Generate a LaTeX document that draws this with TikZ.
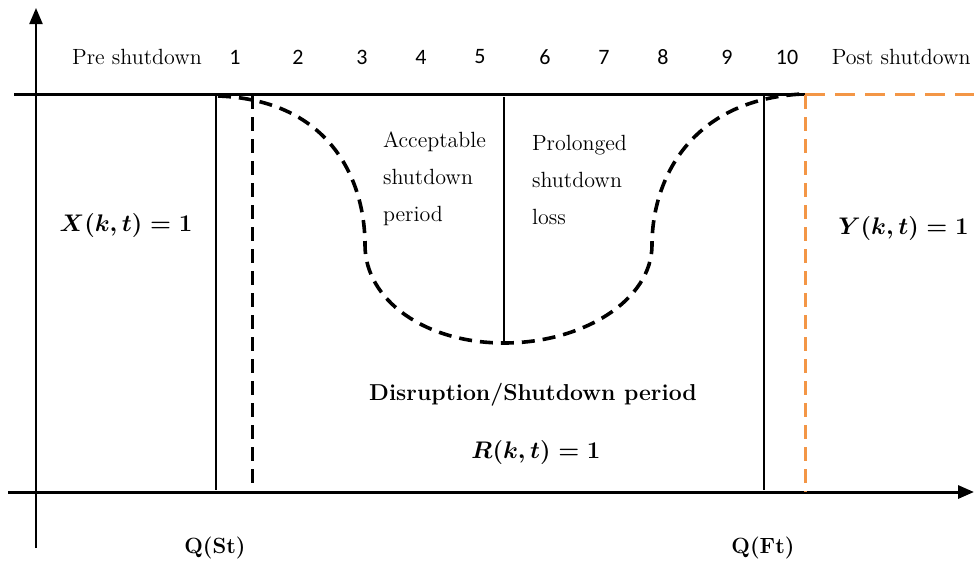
\documentclass[tikz,border=0pt]{standalone}
\usepackage{amsmath,amssymb}
\usepackage{fontspec}
\usepackage{tikz}
\usetikzlibrary{arrows.meta}
\definecolor{postorange}{RGB}{243,150,70}
\newfontfamily\numfont{Carlito}

\begin{document}
\begin{tikzpicture}[x=0.5pt, y=-0.5pt, >={Triangle[length=8pt,width=6.5pt]},
    font=\fontsize{11}{18.5}\selectfont,
    bound/.style={line width=1pt},
    dashbound/.style={line width=1.5pt, dash pattern=on 7pt off 4pt},
    eqlabel/.style={font=\fontsize{11.5}{14}\selectfont\boldmath}]
    \useasboundingbox (0,0) rectangle (974,563);

    % Draw axes
    \draw[line width=1.5pt, ->] (8,492) -- (974,492);
    \draw[line width=1.1pt, ->] (36,548) -- (36,8);

    % Top line, post shutdown part in orange
    \draw[line width=1.5pt] (14,94) -- (805,94);
    \draw[postorange, line width=1.5pt, dash pattern=on 10pt off 5pt] (805,94) -- (974,94);

    % Period bounds
    \draw[bound] (216,95) -- (216,490);
    \draw[dashbound] (252,95) -- (252,492);
    \draw[bound] (764,95) -- (764,490);
    \draw[dashbound, postorange] (805,95) -- (805,492);
    \draw[bound] (504,97) -- (504,343);

    % Shutdown curve
    \draw[line width=1.8pt, dash pattern=on 6.5pt off 4pt]
        (218,96) .. controls (330,100) and (365,180) .. (365,245)
        .. controls (365,300) and (425,343) .. (504,343)
        .. controls (583,343) and (652,300) .. (652,245)
        .. controls (652,180) and (690,100) .. (802,94);

    % Time labels
    \node (pre) at (137,57) {Pre shutdown};
    \foreach \n/\x in {1/235,2/298,3/362,4/421,5/480,6/545,7/604,8/663,9/727,10/787}
        \node[font=\numfont\fontsize{11}{13}\selectfont] (t\n) at (\x,57) {\n};
    \node[anchor=east, inner sep=1pt] (post) at (973,57) {Post shutdown};

    % Curve labels
    \node[align=left, anchor=north west] (accept) at (376,125) {Acceptable\\shutdown\\period};
    \node[align=left, anchor=north west] (prolong) at (525,128) {Prolonged\\shutdown\\loss};

    % State labels
    \node[eqlabel] (xstate) at (126,225) {$X(k,t)=1$};
    \node[eqlabel, anchor=east, inner sep=1pt] (ystate) at (971,228) {$Y(k,t)=1$};
    \node[font=\fontsize{11.5}{13}\selectfont\bfseries] (disrupt) at (533,395) {Disruption/Shutdown period};
    \node[eqlabel] (rstate) at (536,452) {$R(k,t)=1$};

    % Start and finish
    \node[font=\fontsize{11}{13}\selectfont\bfseries] (qst) at (215,548) {Q(St)};
    \node[font=\fontsize{11}{13}\selectfont\bfseries] (qft) at (763,548) {Q(Ft)};
\end{tikzpicture}
\end{document}
